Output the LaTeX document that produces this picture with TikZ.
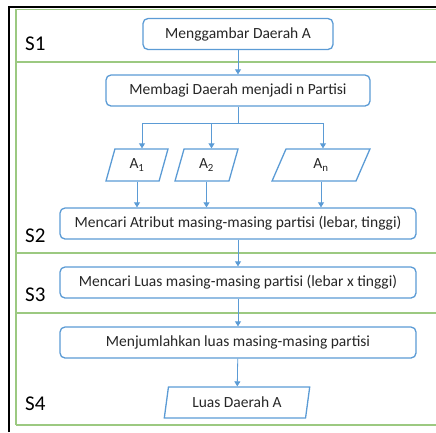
\documentclass[tikz,border=0pt]{standalone}
\usepackage{fontspec}
\setmainfont{Carlito}
\usetikzlibrary{shapes.geometric,arrows.meta,positioning,calc}
\definecolor{boxblue}{HTML}{5B9BD5}
\definecolor{lanegreen}{HTML}{9CC981}
\definecolor{txt}{HTML}{262626}
\begin{document}
\begin{tikzpicture}[x=1pt,y=-1pt,
  proc/.style={draw=boxblue,line width=1.3pt,rounded corners=5pt,fill=white,
    inner sep=0pt,font=\fontsize{15.5}{17}\selectfont,text=txt},
  io/.style={draw=boxblue,line width=1.3pt,trapezium,trapezium left angle=76,
    trapezium right angle=104,trapezium stretches=true,inner sep=0pt,
    font=\fontsize{15.5}{17}\selectfont,text=txt},
  flow/.style={draw=boxblue,line width=0.8pt,-{Triangle[width=6pt,length=5pt]}},
  lane/.style={draw=lanegreen,line width=1.3pt},
  lanelabel/.style={font=\fontsize{21}{23}\selectfont,text=black,inner sep=0pt}]
\useasboundingbox (0,0) rectangle (436,432);
% frame
\draw[black,line width=2.6pt] (9,432) -- (9,7) -- (436,7);
\draw[lane] (16,425) -- (16,9.5) -- (436,9.5);
\draw[lane] (16,62) -- (436,62);
\draw[lane] (16,253) -- (436,253);
\draw[lane] (16,313) -- (436,313);
\draw[lane] (16,425) -- (436,425);
% lane labels
\node[lanelabel,anchor=base west] (s1) at (25,50) {S1};
\node[lanelabel,anchor=base west] (s2) at (25,242) {S2};
\node[lanelabel,anchor=base west] (s3) at (25,301) {S3};
\node[lanelabel,anchor=base west] (s4) at (25,410) {S4};
% nodes
\node[proc,minimum width=190pt,minimum height=31pt] (b1) at (238,34) {Menggambar Daerah A};
\node[proc,minimum width=264pt,minimum height=31pt] (b2) at (238,90.5) {Membagi Daerah menjadi n Partisi};
\node[io,minimum width=62pt,minimum height=32pt] (a1) at (137,165) {A\textsubscript{1}};
\node[io,minimum width=63pt,minimum height=32pt] (a2) at (206.5,165) {A\textsubscript{2}};
\node[io,minimum width=98pt,minimum height=32pt] (an) at (321,165) {A\textsubscript{n}};
\node[proc,minimum width=356pt,minimum height=31pt] (b3) at (238,223.5) {Mencari Atribut masing-masing partisi (lebar, tinggi)};
\node[proc,minimum width=356pt,minimum height=31pt] (b4) at (238,282.5) {Mencari Luas masing-masing partisi (lebar x tinggi)};
\node[proc,minimum width=356pt,minimum height=31pt] (b5) at (238,342.5) {Menjumlahkan luas masing-masing partisi};
\node[io,minimum width=146pt,minimum height=31pt] (la) at (237,402.5) {Luas Daerah A};
% connectors
\draw[flow] (b1) -- (b2);
\coordinate (br) at ($(b2.south)+(0,17)$);
\draw[draw=boxblue,line width=0.8pt] (b2.south) -- (br);
\draw[flow] (br) -| ($(a1.north)+(5,0)$);
\draw[flow] (br) -| ($(a2.north)+(5,0)$);
\draw[flow] (br) -| ($(an.north)+(2,0)$);
\draw[flow] (a1.south) -- (a1.south |- b3.north);
\draw[flow] (a2.south) -- (a2.south |- b3.north);
\draw[flow] (an.south) -- (an.south |- b3.north);
\draw[flow] (b3) -- (b4);
\draw[flow] (b4) -- (b5);
\draw[flow] (b5) -- (la);
\end{tikzpicture}
\end{document}
